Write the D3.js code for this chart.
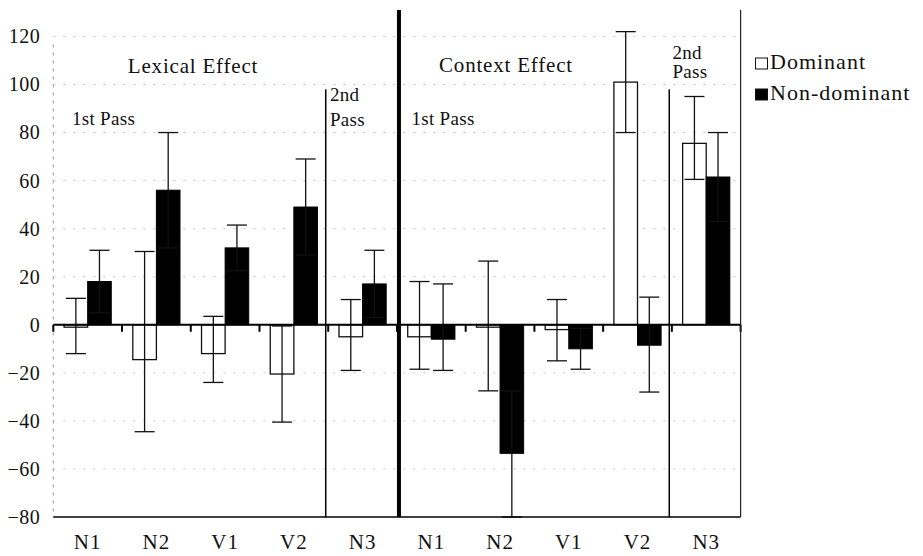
<!DOCTYPE html>
<html>
<head>
<meta charset="utf-8">
<script src="https://cdn.jsdelivr.net/npm/d3@7"></script>
<style>
  html, body { margin: 0; padding: 0; background: #fff; }
  svg { display: block; }
</style>
</head>
<body>
<svg id="chart" width="923" height="556" font-family="Liberation Serif"></svg>
<script>
// ---- Data ----
const categories = ["N1", "N2", "V1", "V2", "N3", "N1", "N2", "V1", "V2", "N3"];
const seriesNames = ["Dominant", "Non-dominant"];
const dominant          = [-1, -14.5, -12, -20.5, -5, -5, -1, -2, 101, 75.5];
const dominantErrHigh   = [11, 30.5, 3.5, -0.5, 10.5, 18, 26.5, 10.5, 122, 95];
const dominantErrLow    = [-12, -44.5, -24, -40.5, -19, -18.5, -27.5, -15, 80, 60.5];
const nonDominant       = [18, 56, 32, 49, 17, -6, -53.5, -10, -8.5, 61.5];
const nonDominantErrHigh= [31, 80, 41.5, 69, 31, 17, -27.5, -1.5, 11.5, 80];
const nonDominantErrLow = [5, 32, 22.5, 29, 3, -19, -80, -18.5, -28, 43];
const yTicks = [-80, -60, -40, -20, 0, 20, 40, 60, 80, 100, 120];

// ---- Layout ----
const svg = d3.select("#chart");
const pLeft = 53.3, pRight = 740.6, pTop = 10, pBottom = 517;
const FONT = "Liberation Serif";

const x = d3.scaleBand().domain(d3.range(categories.length)).range([pLeft, pRight]).padding(0);
const y = d3.scaleLinear().domain([-80, 131]).range([pBottom, pTop]);
const barW = 23.6;

// faint gridlines
svg.append("g").selectAll("line").data(yTicks.filter(t => t !== 0 && t !== -80)).join("line")
  .attr("x1", pLeft).attr("x2", pRight)
  .attr("y1", d => y(d)).attr("y2", d => y(d))
  .attr("stroke", "#c4c4c4").attr("stroke-width", 1).attr("stroke-dasharray", "2,8");

// left axis (faint dotted) and tick labels
svg.append("line").attr("x1", pLeft).attr("x2", pLeft).attr("y1", y(120) + 8).attr("y2", pBottom)
  .attr("stroke", "#999").attr("stroke-width", 1).attr("stroke-dasharray", "3,5");

const yAxis = d3.axisLeft(y).tickValues(yTicks).tickSize(0).tickPadding(13);
const ya = svg.append("g").attr("transform", `translate(${pLeft},0)`).call(yAxis)
  .attr("font-family", FONT).attr("font-size", 20);
ya.select(".domain").remove();
ya.selectAll("text").attr("font-family", FONT).attr("font-size", 20)
  .attr("letter-spacing", 0.5).attr("fill", "#111");

// bars
const rows = categories.map((c, i) => ({i, c}));
const gBars = svg.append("g");
gBars.selectAll("rect.dom").data(rows).join("rect").attr("class", "dom")
  .attr("x", d => x(d.i) + x.bandwidth() / 2 - barW)
  .attr("width", barW)
  .attr("y", d => y(Math.max(0, dominant[d.i])))
  .attr("height", d => Math.abs(y(dominant[d.i]) - y(0)))
  .attr("fill", "#fff").attr("stroke", "#111").attr("stroke-width", 1.3);
gBars.selectAll("rect.non").data(rows).join("rect").attr("class", "non")
  .attr("x", d => x(d.i) + x.bandwidth() / 2)
  .attr("width", barW)
  .attr("y", d => y(Math.max(0, nonDominant[d.i])))
  .attr("height", d => Math.abs(y(nonDominant[d.i]) - y(0)))
  .attr("fill", "#000").attr("stroke", "#000").attr("stroke-width", 1);

// error bars
function errBars(cls, lo, hi, offset) {
  const g = svg.append("g").attr("class", cls);
  const cx = d => x(d.i) + x.bandwidth() / 2 + offset;
  const capW = 20;
  g.selectAll("line.v").data(rows).join("line").attr("class", "v")
    .attr("x1", cx).attr("x2", cx)
    .attr("y1", d => y(hi[d.i])).attr("y2", d => y(lo[d.i]))
    .attr("stroke", "#111").attr("stroke-width", 1.3);
  g.selectAll("line.h").data(rows).join("line").attr("class", "h")
    .attr("x1", d => cx(d) - capW / 2).attr("x2", d => cx(d) + capW / 2)
    .attr("y1", d => y(hi[d.i])).attr("y2", d => y(hi[d.i]))
    .attr("stroke", "#111").attr("stroke-width", 1.3);
  g.selectAll("line.l").data(rows).join("line").attr("class", "l")
    .attr("x1", d => cx(d) - capW / 2).attr("x2", d => cx(d) + capW / 2)
    .attr("y1", d => y(lo[d.i])).attr("y2", d => y(lo[d.i]))
    .attr("stroke", "#111").attr("stroke-width", 1.3);
}
errBars("errDom", dominantErrLow, dominantErrHigh, -barW / 2);
errBars("errNon", nonDominantErrLow, nonDominantErrHigh, barW / 2);

// zero line with small ticks at group boundaries
svg.append("line").attr("x1", pLeft).attr("x2", pRight).attr("y1", y(0)).attr("y2", y(0))
  .attr("stroke", "#000").attr("stroke-width", 2.2);
svg.append("g").selectAll("line").data(d3.range(categories.length + 1)).join("line")
  .attr("x1", d => pLeft + d * x.step()).attr("x2", d => pLeft + d * x.step())
  .attr("y1", y(0)).attr("y2", y(0) + 7)
  .attr("stroke", "#000").attr("stroke-width", 2);

// bottom axis line and category labels
svg.append("line").attr("x1", pLeft).attr("x2", pRight).attr("y1", pBottom).attr("y2", pBottom)
  .attr("stroke", "#000").attr("stroke-width", 1.6);
const xAxis = d3.axisBottom(x).tickFormat(i => categories[i]).tickSize(0).tickPadding(17);
const xa = svg.append("g").attr("transform", `translate(0,${pBottom})`).call(xAxis)
  .attr("font-family", FONT).attr("font-size", 21);
xa.select(".domain").remove();
xa.selectAll("text").attr("font-family", FONT).attr("font-size", 21)
  .attr("letter-spacing", 1).attr("fill", "#111");

// right border
svg.append("line").attr("x1", pRight).attr("x2", pRight).attr("y1", pTop).attr("y2", pBottom)
  .attr("stroke", "#222").attr("stroke-width", 1.2);

// section dividers
svg.append("line").attr("x1", x(5) + 2).attr("x2", x(5) + 2).attr("y1", pTop).attr("y2", pBottom)
  .attr("stroke", "#000").attr("stroke-width", 4);
svg.append("line").attr("x1", x(4) - 2.5).attr("x2", x(4) - 2.5).attr("y1", y(98)).attr("y2", pBottom)
  .attr("stroke", "#000").attr("stroke-width", 1.5);
svg.append("line").attr("x1", x(9) - 2.6).attr("x2", x(9) - 2.6).attr("y1", y(98)).attr("y2", pBottom)
  .attr("stroke", "#000").attr("stroke-width", 1.5);

// annotations
const ann = svg.append("g");
function txt(s, px, py, size, anchor, ls) {
  ann.append("text").attr("x", px).attr("y", py).attr("font-size", size)
    .attr("font-family", FONT).attr("fill", "#111")
    .attr("text-anchor", anchor || "start").attr("letter-spacing", ls || 0).text(s);
}
txt("Lexical Effect", 193, 73, 21, "middle", 0.8);
txt("Context Effect", 506, 72, 21, "middle", 0.8);
txt("1st Pass", 72, 125, 19, "start", 0.3);
txt("1st Pass", 411.5, 125, 19, "start", 0.3);
txt("2nd", 330, 100.5, 19, "start", 0.3);
txt("Pass", 330, 126, 19, "start", 0.3);
txt("2nd", 672.5, 58.5, 19, "start", 0.3);
txt("Pass", 672.5, 77.5, 19, "start", 0.3);

// legend
const legend = svg.append("g");
const legY = [68.5, 99.5];
legend.selectAll("rect").data(seriesNames).join("rect")
  .attr("x", 755.5).attr("y", (d, i) => legY[i] - 10.5).attr("width", 12).attr("height", 11)
  .attr("fill", (d, i) => i === 0 ? "#fff" : "#000").attr("stroke", "#111").attr("stroke-width", 1);
legend.selectAll("text").data(seriesNames).join("text")
  .attr("x", 770).attr("y", (d, i) => legY[i]).attr("font-size", 22).attr("letter-spacing", 1)
  .attr("font-family", FONT).attr("fill", "#111")
  .text(d => d);
</script>
</body>
</html>
